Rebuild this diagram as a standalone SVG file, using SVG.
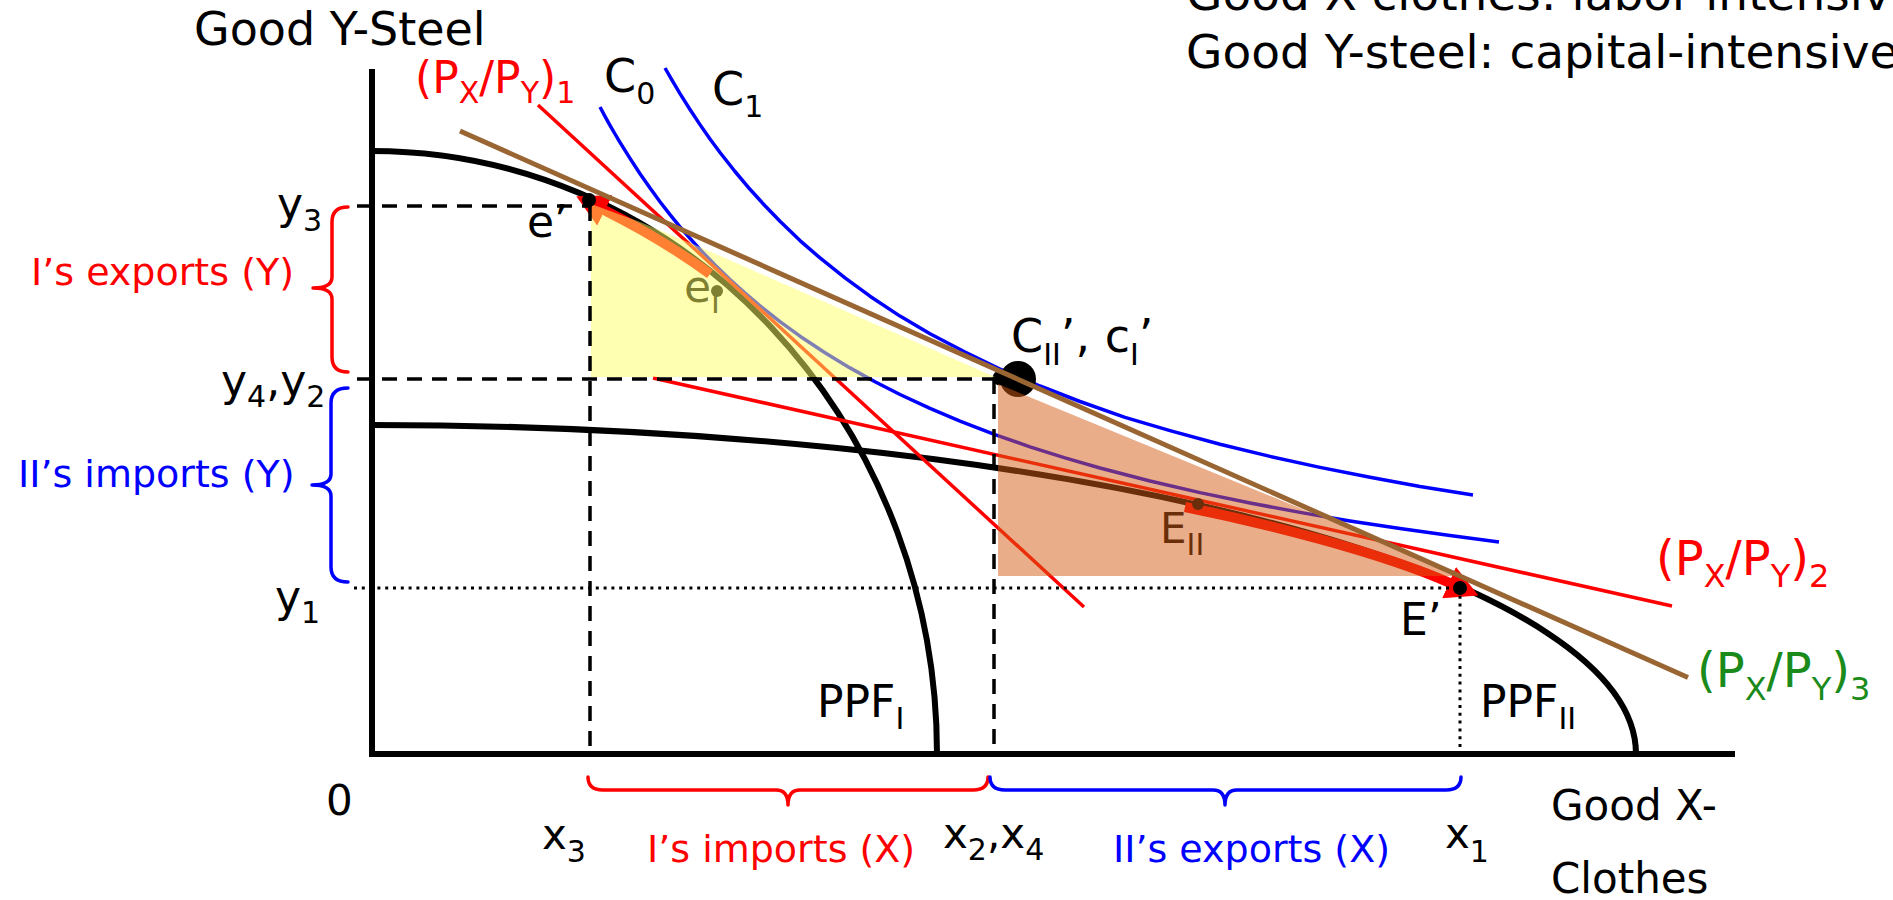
<svg xmlns="http://www.w3.org/2000/svg" width="1893" height="900" viewBox="0 0 1893 900">
<defs>
<marker id="ah" markerUnits="userSpaceOnUse" markerWidth="32" markerHeight="34" viewBox="0 0 32 34" refX="1" refY="17" orient="auto"><path d="M0,0 L32,17 L0,34 Z" fill="#FF0000"/></marker>
</defs>
<style>
text{font-family:"DejaVu Sans","Liberation Sans",sans-serif;fill:#000}
.lbl{font-size:46px}
.m44{font-size:44px}
.sub{font-size:30px}
.br{font-size:38px}
.ppf{fill:none;stroke:#000;stroke-width:6}
.ic{fill:none;stroke:#0000FF;stroke-width:3.5;stroke-linejoin:round}
.pr{fill:none;stroke:#FF0000;stroke-width:3.5}
.dash{fill:none;stroke:#000;stroke-width:3.5;stroke-dasharray:15 10}
.dot{fill:none;stroke:#000;stroke-width:3;stroke-dasharray:3 4.8}
.brace{fill:none;stroke-width:3.5;stroke-linejoin:round;stroke-linecap:round}
.arr{fill:none;stroke:#FF0000;stroke-width:10;marker-end:url(#ah)}
.red{fill:#FF0000}
.blue{fill:#0000FF}
.green{fill:#1A8A1A}
</style>
<rect width="1893" height="900" fill="#FFFFFF"/>

<g id="axes">
<path d="M372,69 V754 H1735" fill="none" stroke="#000" stroke-width="6"/>
</g>

<g id="ppf-curves">
<path id="ppf-I" class="ppf" d="M372,151 A565,603 0 0 1 937,754"/>
<path id="ppf-II" class="ppf" d="M372,425 A1264,329 0 0 1 1636,754"/>
</g>

<g id="indifference-curves">
<polyline id="C0" class="ic" points="600,107 605,116.3 610,125.3 615,134 620,142.4 630,158.4 640,173.7 650,188 660,201.7 670,214.6 680,226.8 690,238.4 700,249.5 715,265 730,279.6 745,293.1 760,305.9 780,321.7 800,336.2 825,352.7 850,367.9 875,381.8 900,394.5 930,408.4 960,421.1 995,434.6 1030,446.8 1065,457.9 1100,468 1150,481 1200,492.6 1250,503 1300,512.4 1350,520.9 1400,528.6 1450,535.6 1499,542"/>
<polyline id="C1" class="ic" points="665,68 672,80.2 680,93.6 690,109.5 700,124.6 710,139 720,152.5 735,171.5 750,189.3 765,205.8 780,221.3 800,240.6 820,257.9 845,277.8 870,296.2 900,316.1 930,333.7 965,352 1000,369.1 1040,386 1080,401.5 1125,417.4 1170,430.6 1220,444.3 1270,456.4 1320,467.4 1370,477.3 1420,486.5 1473,495"/>
</g>

<g id="price-lines">
<line id="p1" class="pr" x1="538" y1="105" x2="1084" y2="607"/>
<line id="p2" class="pr" x1="653" y1="378" x2="1672" y2="606"/>
</g>

<g id="connectors">
<path id="arrow-I" class="arr" d="M710,274 C680,252 640,228 604,210"/>
<path id="arrow-II" class="arr" d="M1185,507 C1260,522 1380,552 1450,583"/>
</g>

<g id="points-under">
<circle id="dot-eI" cx="717" cy="291" r="6" fill="#000"/>
<circle id="dot-EII" cx="1198" cy="504" r="6" fill="#000"/>
<circle cx="1000" cy="378" r="7.5" fill="#000"/>
<circle id="dot-CII" cx="1018" cy="379" r="18" fill="#000"/>
<text id="lbl-eI" class="m44" x="684" y="302">e<tspan class="sub" dy="11">I</tspan></text>
<text id="lbl-EII" style="font-size:42px" x="1160" y="543">E<tspan class="sub" dy="12">II</tspan></text>
</g>

<g id="trade-triangles">
<polygon id="tri-I" points="591,204 640,222 700,247 995,377 591,377" fill="#FFFF66" fill-opacity="0.5"/>
<polygon id="tri-II" points="998,384 1465,576 998,576" fill="#D65C14" fill-opacity="0.5"/>
</g>

<g id="p3-line">
<line x1="460" y1="131" x2="1688" y2="677.5" stroke="#996633" stroke-width="5"/>
</g>

<g id="guides">
<path class="dash" d="M357,206 H589"/>
<path class="dash" d="M590,206 V754"/>
<path class="dash" d="M357,379 H997"/>
<path class="dash" d="M994,379 V754"/>
<path class="dot" d="M354,588 H1460"/>
<path class="dot" d="M1460,588 V754"/>
</g>

<g id="points-top">
<circle id="dot-e1" cx="589" cy="200" r="7" fill="#000"/>
<circle id="dot-E1" cx="1460" cy="588" r="7" fill="#000"/>
</g>

<g id="braces">
<path class="brace" stroke="#FF0000" d="M348,207 Q332,207 332,222 L332,277 Q332,288 313,288 Q332,288 332,299 L332,357 Q332,372 348,372"/>
<path class="brace" stroke="#0000FF" d="M348,388 Q331,388 331,403 L331,474 Q331,485 312,485 Q331,485 331,496 L331,567 Q331,582 348,582"/>
<path class="brace" stroke="#FF0000" d="M588,777 Q588,790 603,790 L776,790 Q788,790 788,805 Q788,790 800,790 L973,790 Q988,790 988,777"/>
<path class="brace" stroke="#0000FF" d="M990,777 Q990,790 1005,790 L1213,790 Q1225,790 1225,805 Q1225,790 1237,790 L1446,790 Q1461,790 1461,777"/>
</g>

<g id="labels">
<text class="lbl" x="194" y="45">Good Y-Steel</text>
<text style="font-size:47px" x="1186" y="10">Good X-clothes: labor-intensive</text>
<text style="font-size:47px" x="1186" y="68">Good Y-steel: capital-intensive</text>

<text class="red" style="font-size:44px" x="415" y="93">(P<tspan style="font-size:30px" dy="10">X</tspan><tspan dy="-10">/P</tspan><tspan style="font-size:30px" dy="10">Y</tspan><tspan dy="-10">)</tspan><tspan style="font-size:30px" dy="10">1</tspan></text>
<text class="red" style="font-size:48px" x="1656" y="575">(P<tspan style="font-size:32px" dy="12">X</tspan><tspan dy="-12">/P</tspan><tspan style="font-size:32px" dy="12">Y</tspan><tspan dy="-12">)</tspan><tspan style="font-size:32px" dy="12">2</tspan></text>
<text class="green" style="font-size:48px" x="1697" y="687">(P<tspan style="font-size:32px" dy="13">X</tspan><tspan dy="-13">/P</tspan><tspan style="font-size:32px" dy="13">Y</tspan><tspan dy="-13">)</tspan><tspan style="font-size:32px" dy="13">3</tspan></text>

<text class="lbl" x="604" y="92">C<tspan class="sub" dy="12">0</tspan></text>
<text class="lbl" x="712" y="105">C<tspan class="sub" dy="12">1</tspan></text>

<text class="lbl" x="1011" y="352">C<tspan class="sub" dy="13">II</tspan><tspan dy="-13">’, c</tspan><tspan class="sub" dy="13">I</tspan><tspan dy="-13">’</tspan></text>

<text class="m44" x="527" y="237">e’</text>
<text class="m44" x="1400" y="635">E’</text>

<text class="m44" x="817" y="717">PPF<tspan class="sub" dy="12">I</tspan></text>
<text class="m44" x="1480" y="717">PPF<tspan class="sub" dy="12">II</tspan></text>

<text class="m44" x="277" y="219">y<tspan class="sub" dy="12">3</tspan></text>
<text class="m44" x="221" y="396">y<tspan class="sub" dy="11">4</tspan><tspan dy="-11">,y</tspan><tspan class="sub" dy="11">2</tspan></text>
<text class="m44" x="275" y="612">y<tspan class="sub" dy="11">1</tspan></text>

<text style="font-size:42px" x="326" y="815">0</text>
<text style="font-size:42px" x="542" y="849">x<tspan class="sub" dy="13">3</tspan></text>
<text style="font-size:42px" x="943" y="848">x<tspan class="sub" dy="12">2</tspan><tspan dy="-12">,x</tspan><tspan class="sub" dy="12">4</tspan></text>
<text style="font-size:42px" x="1445" y="848">x<tspan class="sub" dy="14">1</tspan></text>

<text class="br red" x="31" y="285">I’s exports (Y)</text>
<text class="br blue" x="18" y="487">II’s imports (Y)</text>
<text class="br red" x="647" y="862">I’s imports (X)</text>
<text class="br blue" x="1113" y="862">II’s exports (X)</text>

<text style="font-size:42px" x="1551" y="820">Good X-</text>
<text style="font-size:42px" x="1551" y="893">Clothes</text>
</g>
</svg>
